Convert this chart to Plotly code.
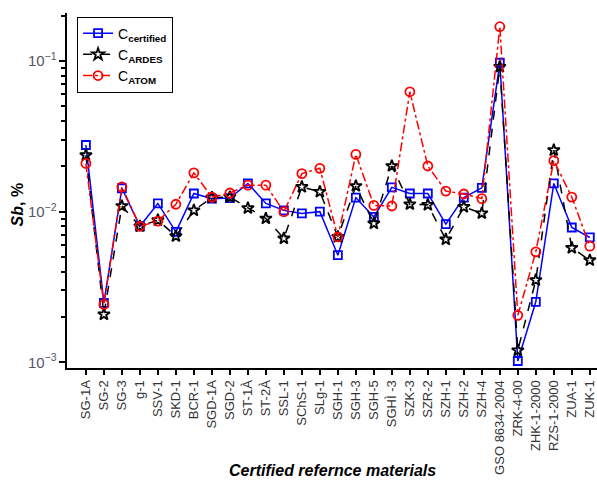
import plotly.graph_objects as go

categories = ["SG-1A", "SG-2", "SG-3", "g-1", "SSV-1", "SKD-1", "BCR-1", "SGD-1A", "SGD-2",
              "ST-1À", "ST-2À", "SSL-1", "SChS-1", "SLg-1", "SGH-1", "SGH-3", "SGH-5", "SGHÌ -3",
              "SZK-3", "SZR-2", "SZH-1", "SZH-2", "SZH-4", "GSO 8634-2004", "ZRK-4-00",
              "ZHK-1-2000", "RZS-1-2000", "ZUA-1", "ZUK-1"]

c_certified = [0.0277, 0.00248, 0.0143, 0.0080, 0.01134, 0.00734, 0.0132, 0.0122, 0.0123,
               0.0154, 0.01134, 0.0102, 0.00973, 0.0100, 0.00514, 0.0124, 0.00923, 0.0145,
               0.0132, 0.0132, 0.00826, 0.0124, 0.0144, 0.0974, 0.00102,
               0.00252, 0.0154, 0.00785, 0.00674]

c_ardes = [0.0237, 0.00208, 0.0109, 0.0080, 0.00879, 0.00687, 0.0102, 0.0124, 0.0125,
           0.01055, 0.00901, 0.00664, 0.0146, 0.01355, 0.0068, 0.0148, 0.00835, 0.0201,
           0.0112, 0.0111, 0.00654, 0.01076, 0.00976, 0.0916, 0.00120,
           0.00351, 0.0256, 0.00575, 0.00476]

c_atom = [0.0209, 0.00242, 0.0146, 0.0080, 0.00865, 0.0112, 0.0181, 0.0125, 0.0133,
          0.0150, 0.0150, 0.0100, 0.0179, 0.0194, 0.0068, 0.0240, 0.0110, 0.0109,
          0.0625, 0.0201, 0.0137, 0.0131, 0.0122, 0.169, 0.00205,
          0.00541, 0.0218, 0.0125, 0.0059]

FONT = "Arial, Liberation Sans, sans-serif"

fig = go.Figure()
fig.add_trace(go.Scatter(
    x=categories, y=c_certified, mode="lines+markers",
    name="C<sub><b>certified</b></sub>",
    line=dict(color="#0000FF", width=1.5, dash="solid"),
    marker=dict(symbol="square-open", size=8, color="#0000FF", line=dict(width=1.8)),
))
fig.add_trace(go.Scatter(
    x=categories, y=c_ardes, mode="lines+markers",
    name="C<sub><b>ARDES</b></sub>",
    line=dict(color="black", width=1.5, dash="dash"),
    marker=dict(symbol="star-open", size=9, color="black", line=dict(width=1.8)),
))
fig.add_trace(go.Scatter(
    x=categories, y=c_atom, mode="lines+markers",
    name="C<sub><b>ATOM</b></sub>",
    line=dict(color="#FF0000", width=1.5, dash="dashdot"),
    marker=dict(symbol="circle-open", size=9, color="#FF0000", line=dict(width=1.8)),
))

fig.update_layout(
    width=597, height=488,
    margin=dict(l=67, r=0, t=13, b=120),
    paper_bgcolor="white", plot_bgcolor="white",
    font=dict(family=FONT, color="black"),
    showlegend=True,
    legend=dict(
        x=0.019, y=0.99, xanchor="left", yanchor="top",
        bordercolor="black", borderwidth=1, bgcolor="white",
        font=dict(size=14, family=FONT, color="black"),
        tracegroupgap=2, itemwidth=30,
    ),
)

fig.update_xaxes(
    type="category", range=[-1.05, 28.4],
    showline=True, linecolor="black", linewidth=2,
    ticks="outside", ticklen=5, tickwidth=1.5, tickcolor="black",
    tickangle=-90, tickfont=dict(size=13, color="#333333", family=FONT),
    showgrid=False, zeroline=False,
)
fig.update_yaxes(
    type="log", range=[-3.038, -0.681],
    showline=True, linecolor="black", linewidth=2,
    ticks="outside", ticklen=6, tickwidth=2, tickcolor="black",
    dtick=1, exponentformat="power",
    tickfont=dict(size=12, color="#555566", family=FONT),
    minor=dict(ticks="outside", ticklen=4, tickwidth=1.5, tickcolor="black", showgrid=False),
    showgrid=False, zeroline=False,
)

fig.add_annotation(
    text="<b><i>Sb</i>, %</b>", xref="paper", yref="paper",
    x=-0.093, y=0.46, xanchor="center", yanchor="middle",
    textangle=-90, showarrow=False, font=dict(size=16, family=FONT, color="black"),
)
fig.add_annotation(
    text="<b><i>Certified refernce materials</i></b>", xref="paper", yref="paper",
    x=0.5, y=-0.29, xanchor="center", yanchor="middle",
    showarrow=False, font=dict(size=16, family=FONT, color="black"),
)

fig.write_html("out.html")
